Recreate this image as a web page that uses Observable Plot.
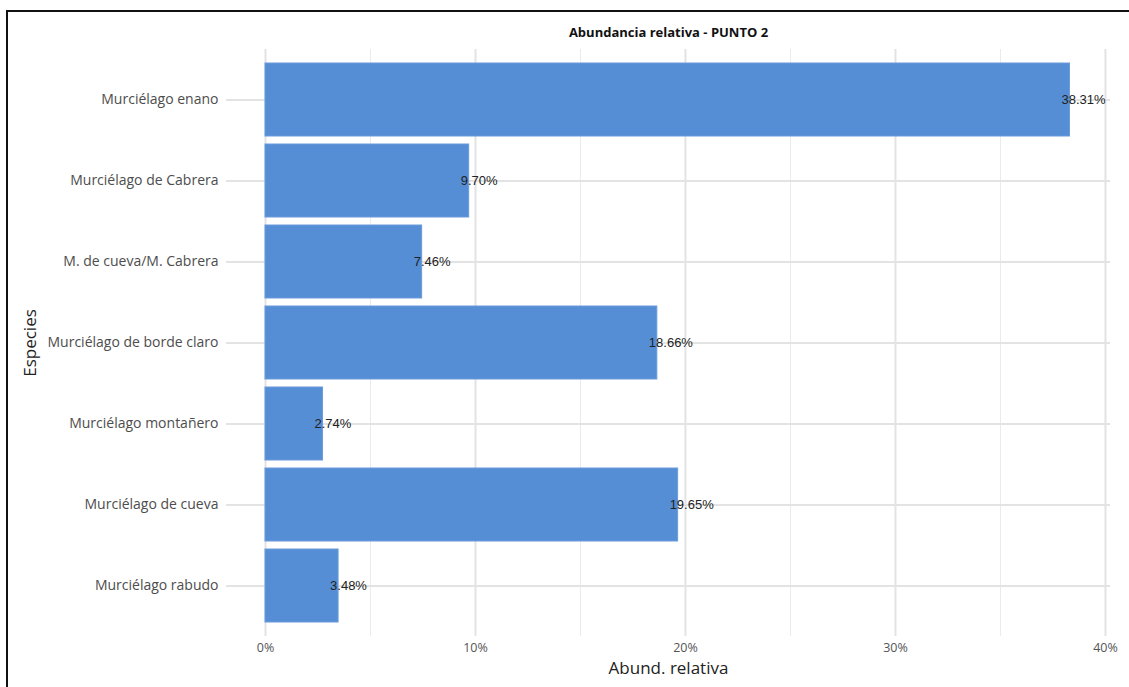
<!DOCTYPE html>
<html>
<head>
<meta charset="utf-8">
<script src="https://cdn.jsdelivr.net/npm/d3@7"></script>
<script src="https://cdn.jsdelivr.net/npm/@observablehq/plot@0.6"></script>
<style>
  html, body { margin: 0; padding: 0; background: #fff; }
  #wrap { position: relative; width: 1129px; height: 687px; overflow: hidden; }
  #frame { position: absolute; left: 6px; top: 10px; width: 1200px; height: 800px; border-left: 2px solid #111; border-top: 2px solid #111; pointer-events: none; }
  #chart { position: absolute; left: 0; top: 0; }
</style>
</head>
<body>
<div id="wrap"><div id="chart"></div><div id="frame"></div></div>
<script>
const species = [
  "Murciélago enano",
  "Murciélago de Cabrera",
  "M. de cueva/M. Cabrera",
  "Murciélago de borde claro",
  "Murciélago montañero",
  "Murciélago de cueva",
  "Murciélago rabudo"
];
const values = [38.31, 9.70, 7.46, 18.66, 2.74, 19.65, 3.48];
const majorTicks = [0, 10, 20, 30, 40];
const minorTicks = [5, 15, 25, 35];
const title = "Abundancia relativa - PUNTO 2";
const xTitle = "Abund. relativa";
const yTitle = "Especies";

const data = species.map((s, i) => ({species: s, value: values[i]}));

const chart = Plot.plot({
  width: 1129,
  height: 687,
  marginTop: 49,
  marginBottom: 51,
  marginLeft: 226,
  marginRight: 19,
  style: {fontFamily: "'Open Sans', sans-serif", background: "transparent", overflow: "visible"},
  x: {domain: [-1.857, 40.24], ticks: majorTicks, tickFormat: d => d + "%", label: null},
  y: {domain: species, paddingInner: 0.1, paddingOuter: 0.159, label: null},
  marks: [
    Plot.ruleX(minorTicks, {stroke: "#ebebeb", strokeWidth: 1}),
    Plot.ruleX(majorTicks, {stroke: "#e3e3e3", strokeWidth: 2}),
    Plot.ruleY(species, {y: d => d, stroke: "#e3e3e3", strokeWidth: 2}),
    Plot.barX(data, {x1: 0, x2: "value", y: "species", fill: "#558ed5", stroke: "#6a9bdb", strokeWidth: 1}),
    Plot.text(data, {x: "value", y: "species", text: d => d.value.toFixed(2) + "%", textAnchor: "start", dx: -8.5, fill: "#222", fontSize: 13, fontFamily: "'Liberation Sans', Arial, sans-serif"}),
    Plot.axisX(majorTicks, {tickSize: 0, tickPadding: 7, tickFormat: d => d + "%", fontSize: 12.5, fill: "#555", label: null}),
    Plot.axisY({tickSize: 0, tickPadding: 8, fontSize: 14, fill: "#4d4d4d", label: null}),
    Plot.text([title], {frameAnchor: "top", dy: -22, fontWeight: "bold", fontSize: 13, fill: "#111"}),
    Plot.text([xTitle], {frameAnchor: "bottom", dy: 37, fontSize: 17, fill: "#222"}),
    Plot.text([yTitle], {frameAnchor: "left", textAnchor: "middle", dx: -196, rotate: -90, fontSize: 17, fill: "#222"})
  ]
});
document.getElementById("chart").appendChild(chart);
</script>
</body>
</html>
